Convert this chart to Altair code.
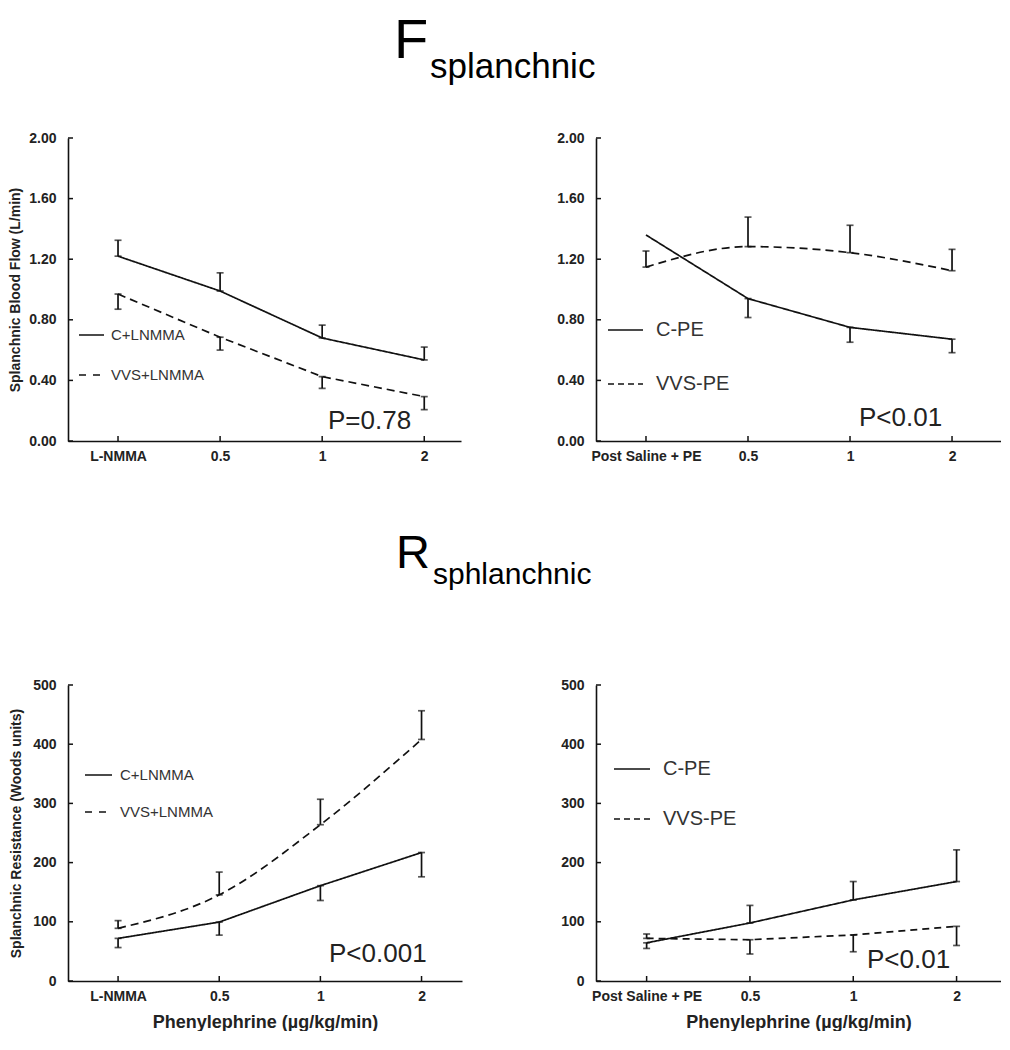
import altair as alt
import pandas as pd

FONT = "Liberation Sans"
LINE = "#111111"
TXT = "#222222"

# ---------------- data ----------------
x_idx = [0, 1, 2, 3]
lnmma_labels = ["L-NMMA", "0.5", "1", "2"]
pe_labels = ["Post Saline + PE", "0.5", "1", "2"]

flow_ticks = [0, 0.4, 0.8, 1.2, 1.6, 2.0]
res_ticks = [0, 100, 200, 300, 400, 500]

# Splanchnic blood flow (L/min): mean and end of error bar
flow_c_lnmma = [1.22, 0.99, 0.68, 0.535]
flow_c_lnmma_err = [1.325, 1.11, 0.765, 0.62]
flow_vvs_lnmma = [0.97, 0.685, 0.425, 0.293]
flow_vvs_lnmma_err = [0.87, 0.60, 0.348, 0.207]

flow_c_pe = [1.36, 0.94, 0.75, 0.672]
flow_c_pe_err = [None, 0.815, 0.652, 0.583]
flow_vvs_pe = [1.148, 1.283, 1.243, 1.124]
flow_vvs_pe_err = [1.254, 1.478, 1.424, 1.265]

# Splanchnic resistance (Woods units)
res_c_lnmma = [72, 99.5, 161, 217]
res_c_lnmma_err = [56.5, 77.5, 136, 176]
res_vvs_lnmma = [89, 145.5, 264, 408]
res_vvs_lnmma_err = [102, 184, 307, 456.5]

res_c_pe = [64.5, 98, 137, 168]
res_c_pe_err = [55, 127.7, 168, 221.5]
res_vvs_pe = [72, 69.7, 77.8, 92.3]
res_vvs_pe_err = [79.4, 45.6, 49.4, 60]

SOLID = [1, 0]


def text_layer(txt, size, x, y, color="#000000", baseline="alphabetic"):
    return alt.Chart(pd.DataFrame({"t": [txt]})).mark_text(
        align="left", baseline=baseline, font=FONT, fontSize=size, color=color
    ).encode(text="t:N", x=alt.value(x), y=alt.value(y))


def make_panel(cat_labels, series, y_ticks, y_domain, y_format, y_title, x_title,
               x_domain, width, height, legend, p_label, p_pos, y_title_pad,
               heading=None):
    label_expr = "[" + ",".join("'" + l + "'" for l in cat_labels) + "][datum.value]"
    xenc = alt.X("i:Q", scale=alt.Scale(domain=x_domain, nice=False, zero=False),
                 title=x_title,
                 axis=alt.Axis(values=x_idx, labelExpr=label_expr, labelOverlap=False,
                               labelFlush=False, titlePadding=10))
    yenc = alt.Y("y:Q", scale=alt.Scale(domain=y_domain, nice=False, zero=False),
                 title=y_title,
                 axis=alt.Axis(values=y_ticks, format=y_format, labelFlush=False,
                               labelOverlap=False, titlePadding=y_title_pad))
    layers = []
    for s in series:
        df = pd.DataFrame({"i": x_idx, "y": s["mean"], "e": s["err"]})
        layers.append(
            alt.Chart(df).mark_line(color=LINE, strokeWidth=1.7, strokeDash=s["dash"],
                                    interpolate=s["interp"]).encode(x=xenc, y=yenc))
        ebdf = df.dropna(subset=["e"])
        layers.append(
            alt.Chart(ebdf).mark_errorbar(ticks={"size": 7}, thickness=1.7, color=LINE)
            .encode(x=xenc, y=yenc, y2="e:Q"))
    # inward ticks
    layers.append(
        alt.Chart(pd.DataFrame({"y": y_ticks})).mark_rule(color=LINE, strokeWidth=1.5)
        .encode(y=yenc, x=alt.value(0), x2=alt.value(5)))
    layers.append(
        alt.Chart(pd.DataFrame({"i": x_idx})).mark_rule(color=LINE, strokeWidth=1.5)
        .encode(x=xenc, y=alt.value(height), y2=alt.value(height - 5)))
    # legend
    for name, dash, ly in legend["rows"]:
        ldf = pd.DataFrame({"s": [name]})
        layers.append(
            alt.Chart(ldf).mark_rule(color=LINE, strokeWidth=1.6, strokeDash=dash)
            .encode(x=alt.value(legend["x1"]), x2=alt.value(legend["x2"]), y=alt.value(ly)))
        layers.append(text_layer(name, legend["size"], legend["tx"], ly,
                                 color="#333333", baseline="middle"))
    layers.append(text_layer(p_label, 26, p_pos[0], p_pos[1], color=TXT))
    if heading is not None:
        for txt, size, hx, hy in heading:
            layers.append(text_layer(txt, size, hx, hy))
    return alt.layer(*layers).properties(width=width, height=height)


tl = make_panel(
    lnmma_labels,
    [dict(mean=flow_c_lnmma, err=flow_c_lnmma_err, dash=SOLID, interp="linear"),
     dict(mean=flow_vvs_lnmma, err=flow_vvs_lnmma_err, dash=[8, 5], interp="linear")],
    flow_ticks, [0, 2], ".2f", "Splanchnic Blood Flow (L/min)", None,
    [-0.49, 3.36], 393, 303,
    dict(x1=11, x2=36, tx=43, size=15,
         rows=[("C+LNMMA", SOLID, 197), ("VVS+LNMMA", [7, 7], 237)]),
    "P=0.78", (260, 291), 6,
    heading=[("F", 56, 326, -80), ("splanchnic", 35, 362, -60)])

tr = make_panel(
    pe_labels,
    [dict(mean=flow_c_pe, err=flow_c_pe_err, dash=SOLID, interp="linear"),
     dict(mean=flow_vvs_pe, err=flow_vvs_pe_err, dash=[8, 5], interp="monotone")],
    flow_ticks, [0, 2], ".2f", None, None,
    [-0.49, 3.48], 405, 303,
    dict(x1=12, x2=47, tx=60, size=20,
         rows=[("C-PE", SOLID, 192), ("VVS-PE", [6, 4], 246)]),
    "P<0.01", (263, 288), 6)

bl = make_panel(
    lnmma_labels,
    [dict(mean=res_c_lnmma, err=res_c_lnmma_err, dash=SOLID, interp="linear"),
     dict(mean=res_vvs_lnmma, err=res_vvs_lnmma_err, dash=[8, 5], interp="monotone")],
    res_ticks, [0, 500], "d", "Splanchnic Resistance (Woods units)",
    "Phenylephrine (µg/kg/min)",
    [-0.495, 3.4], 394, 296,
    dict(x1=17, x2=44, tx=52, size=15,
         rows=[("C+LNMMA", SOLID, 90), ("VVS+LNMMA", [7, 7], 127)]),
    "P<0.001", (261, 277), 9,
    heading=[("R", 47, 328, -117), ("sphlanchnic", 30, 365, -101)])

br = make_panel(
    pe_labels,
    [dict(mean=res_c_pe, err=res_c_pe_err, dash=SOLID, interp="linear"),
     dict(mean=res_vvs_pe, err=res_vvs_pe_err, dash=[7, 5], interp="linear")],
    res_ticks, [0, 500], "d", None, "Phenylephrine (µg/kg/min)",
    [-0.49, 3.43], 405, 296,
    dict(x1=18, x2=54, tx=67, size=20,
         rows=[("C-PE", SOLID, 84), ("VVS-PE", [6, 4], 134)]),
    "P<0.01", (271, 283), 9)

chart = (
    alt.concat(tl, tr, bl, br, columns=2, bounds="flush",
               spacing={"row": 244, "column": 134})
    .properties(padding={"left": 0, "top": 5, "right": 0, "bottom": 0})
    .configure_view(stroke=None)
    .configure_axis(
        grid=False, ticks=False, tickSize=0, domainColor=LINE, domainWidth=1.6,
        labelFont=FONT, labelFontWeight="bold", labelFontSize=14, labelColor=TXT,
        titleFont=FONT, titleFontWeight="bold", titleColor=TXT,
    )
    .configure_axisX(labelPadding=8, titleFontSize=18)
    .configure_axisY(labelPadding=12, titleFontSize=14)
)

chart.save("out.html", embed_options={"renderer": "svg", "actions": False})
